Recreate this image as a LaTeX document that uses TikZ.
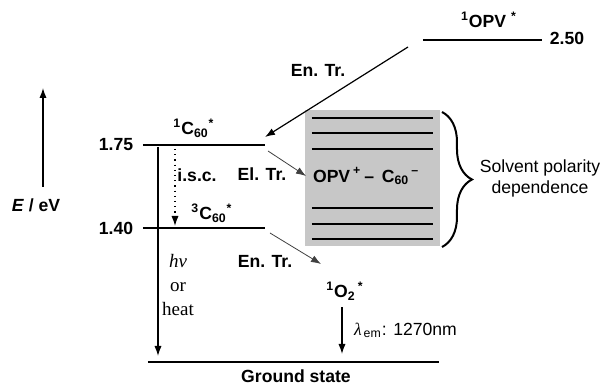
\documentclass[tikz,border=0pt]{standalone}
\usepackage{fontspec}
\setmainfont{Liberation Sans}
\newfontfamily\timesface{Liberation Serif}
\usetikzlibrary{positioning,arrows.meta,calc,decorations.pathreplacing}

\begin{document}
\begin{tikzpicture}[x=0.5pt,y=-0.5pt,
  font=\fontsize{8.8}{10.5}\selectfont,
  lbl/.style={font=\bfseries\fontsize{8.8}{10.5}\selectfont},
  level/.style={line width=1pt},
  trans/.style={-{Latex[length=5pt,width=3.6pt]},line width=0.6pt},
  thintrans/.style={-{Latex[length=5pt,width=3.6pt]},line width=0.4pt,black!75}]
\useasboundingbox (0,0) rectangle (602,385);
% energy axis
\draw[trans] (43,187) -- (43,88);
\node[lbl] (eaxis) at (36,205) {\textit{E} / eV};
% levels
\coordinate (c1a) at (143,145); \coordinate (c1b) at (265,145);
\coordinate (c3a) at (143,228); \coordinate (c3b) at (265,228);
\coordinate (opva) at (423,40); \coordinate (opvb) at (542,40);
\coordinate (gsa) at (148,362); \coordinate (gsb) at (439,362);
\draw[level] (c1a) -- (c1b);
\draw[level] (c3a) -- (c3b);
\draw[level] (opva) -- (opvb);
\draw[level] (gsa) -- (gsb);
\node[lbl] (e175) at (116,145) {1.75};
\node[lbl] (e140) at (116,228) {1.40};
\node[lbl] (e250) at (567,38) {2.50};
\node[lbl] (opv) at (489,20) {\textsuperscript{1}OPV \textsuperscript{*}};
\node[lbl] (c60s) at (194,128) {\textsuperscript{1}C\textsubscript{60}\textsuperscript{*}};
\node[lbl] (c60t) at (212,213) {\textsuperscript{3}C\textsubscript{60}\textsuperscript{*}};
\node[lbl] (gs) at (296,376) {Ground state};
% charge separated states
\fill[black!22] (305,110) rectangle (440,246);
\foreach \y in {118,133,149,208,224,239}
  \draw[level] (312,\y) -- (433,\y);
\node[lbl,anchor=west] (cs) at (306,176) {OPV\,\textsuperscript{+}\,--\, C\textsubscript{60}\textsuperscript{\,--}};
\draw[line width=1pt,decorate,decoration={brace,amplitude=15pt}] (442,112) -- (442,247);
\node[align=center] (solv) at (540,178) {Solvent polarity\\dependence};
% transitions
\coordinate (entop) at (408,47);
\coordinate (c1end) at (265,137);
\draw[trans] (entop) -- (c1end);
\node[lbl] (entr1) at (318,70) {En. Tr.};
\draw[dotted,trans] (175,149) -- (175,226);
\node[lbl] (isc) at (197,175) {i.s.c.};
\draw[trans] (158,147) -- (158,356);
\node[font=\timesface\fontsize{9.5}{12}\selectfont,align=center] (hv) at (178,285) {\textit{hν}\\or\\heat};
\coordinate (eltr) at (268,151);
\draw[thintrans] (eltr) -- (cs.west);
\node[lbl] (eltrl) at (262,174) {El. Tr.};
\coordinate (entr) at (270,233);
\node[lbl] (o2) at (345,291) {\textsuperscript{1}O\textsubscript{2}\textsuperscript{\,*}};
\draw[thintrans] (entr) -- (321,264);
\node[lbl] (entr2) at (265,261) {En. Tr.};
\draw[trans] (o2.south -| 342,0) -- (342,354);
\node[anchor=west] (lam) at (347,330) {{\timesface\itshape λ}\textsubscript{\,em}: 1270nm};
\end{tikzpicture}
\end{document}
